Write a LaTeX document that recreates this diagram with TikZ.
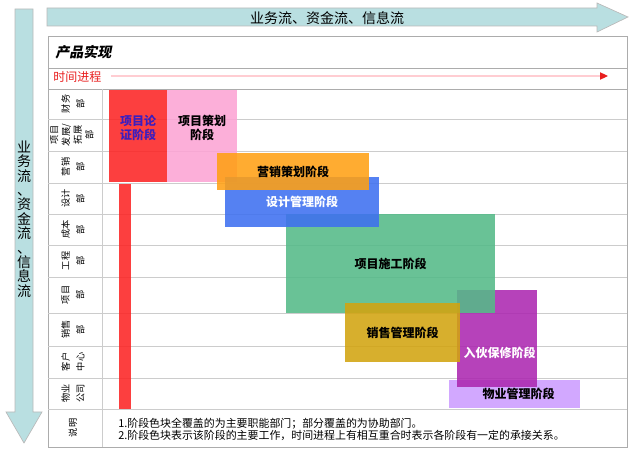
\documentclass[tikz,border=0pt]{standalone}
\usepackage{fontspec}
\setmainfont{Noto Sans CJK SC}
\newfontfamily\titlefont[FakeSlant=0.2]{Noto Sans CJK SC}
\usetikzlibrary{arrows.meta,fit}
\definecolor{flowteal}{RGB}{185,223,225}
\definecolor{timered}{RGB}{232,30,30}
\definecolor{timepink}{RGB}{255,205,210}
\definecolor{phasered}{RGB}{252,36,36}
\definecolor{phasepink}{RGB}{252,164,212}
\definecolor{phaseorange}{RGB}{255,160,20}
\definecolor{phaseblue}{RGB}{62,112,240}
\definecolor{phasegreen}{RGB}{84,186,136}
\definecolor{phasegold}{RGB}{210,164,16}
\definecolor{phasemag}{RGB}{172,40,176}
\definecolor{phaselav}{RGB}{204,156,255}
\definecolor{lunzhengtext}{RGB}{60,30,190}
\begin{document}
\begin{tikzpicture}[x=0.75pt,y=-0.75pt,
    frame/.style={draw=gray!65,line width=0.6pt},
    rowline/.style={draw=gray!40,line width=0.6pt},
    flow/.style={fill=flowteal,draw=gray!55,line width=0.5pt},
    timeline/.style={draw=timepink,line width=0.8pt,-{Triangle[length=6pt,width=5.5pt,color=timered]}},
    dept/.style={rotate=90,align=center,inner sep=0pt,font=\fontsize{6.9}{11}\selectfont},
    phase/.style={inner sep=0pt,fill opacity=0.88,draw=none},
    ptext/.style={align=center,inner sep=0pt,text opacity=1,font=\fontsize{9}{10}\selectfont\bfseries}
]
\useasboundingbox (0,0) rectangle (640,456);

\draw[flow] (47,8) -- (597,8) -- (597,3) -- (628,17) -- (597,32) -- (597,26) -- (47,26) -- cycle;
\node[font=\fontsize{10.5}{12}\selectfont] (topflow) at (327,18) {业务流、资金流、信息流};
\draw[flow] (15,9) -- (33,9) -- (33,412) -- (42,412) -- (24,443) -- (6,412) -- (15,412) -- cycle;
\node[align=center,font=\fontsize{10.5}{10.8}\selectfont] (leftflow) at (24,219) {业\\务\\流\\、\\资\\金\\流\\、\\信\\息\\流};

\draw[frame] (48,36) rectangle (627,447);
\draw[frame] (48,68) -- (627,68);
\draw[frame] (48,89) -- (627,89);
\foreach \y in {119,151,183,214,245,277,313,346,378,409}
    \draw[rowline] (48,\y) -- (627,\y);
\draw[rowline] (102,89) -- (102,447);

\node[anchor=west,inner sep=0pt,font=\titlefont\bfseries\fontsize{10.5}{12}\selectfont] (chanpin) at (55,52) {产品实现};
\node[anchor=west,inner sep=0pt,text=timered,font=\fontsize{9}{10}\selectfont] (shijian) at (53,77) {时间进程};
\coordinate (timeend) at (608,76);
\draw[timeline] ([xshift=7pt,yshift=0.75pt]shijian.east) -- (timeend);

\node[dept] (caiwu) at (73,104) {财务\\部};
\node[dept,font=\fontsize{6.9}{8.8}\selectfont] (tuozhan) at (72,135) {项目\\发展/\\拓展\\部};
\node[dept] (yingxiaobu) at (73,167) {营销\\部};
\node[dept] (shejibu) at (73,198.5) {设计\\部};
\node[dept] (chengben) at (73,229.5) {成本\\部};
\node[dept] (gongcheng) at (73,261) {工程\\部};
\node[dept] (xiangmu) at (73,295) {项目\\部};
\node[dept] (xiaoshoubu) at (73,329.5) {销售\\部};
\node[dept] (kehu) at (73,362) {客户\\中心};
\node[dept] (wuyegs) at (73,393.5) {物业\\公司};
\node[dept] (shuoming) at (73,428) {说明};

\node[phase,fill=phasepink,fit={(167,90) (237,182)},label={[ptext,yshift=6pt]center:项目策划\\阶段}] (cehua) {};
\node[phase,fill=phasered,fit={(109,90) (167,182)},label={[ptext,text=lunzhengtext,yshift=6pt]center:项目论\\证阶段}] (lunzheng) {};
\node[phase,fill=phasered,fit={(119,184) (131,409)}] (lunzhengbar) {};
\node[phase,fill=phaselav,fit={(449,380) (580,408)},label={[ptext,xshift=3pt]center:物业管理阶段}] (wuye) {};
\node[phase,fill=phasemag,fit={(457,290) (537,387)},label={[ptext,text=white,xshift=2pt,yshift=-11pt]center:入伙保修阶段}] (ruhuo) {};
\node[phase,fill=phasegreen,fit={(286,214) (495,313)},label={[ptext]center:项目施工阶段}] (shigong) {};
\node[phase,fill=phasegold,fit={(345,303) (460,362)},label={[ptext]center:销售管理阶段}] (xiaoshou) {};
\node[phase,fill=phaseblue,fit={(225,177) (379,227)},label={[ptext,text=white]center:设计管理阶段}] (sheji) {};
\node[phase,fill=phaseorange,fit={(217,153) (369,190)},label={[ptext]center:营销策划阶段}] (yingxiao) {};

\node[anchor=west,align=left,inner sep=0pt,font=\fontsize{8.2}{9}\selectfont] (notes) at (118,429) {1.阶段色块全覆盖的为主要职能部门；部分覆盖的为协助部门。\\2.阶段色块表示该阶段的主要工作，时间进程上有相互重合时表示各阶段有一定的承接关系。};
\end{tikzpicture}
\end{document}
